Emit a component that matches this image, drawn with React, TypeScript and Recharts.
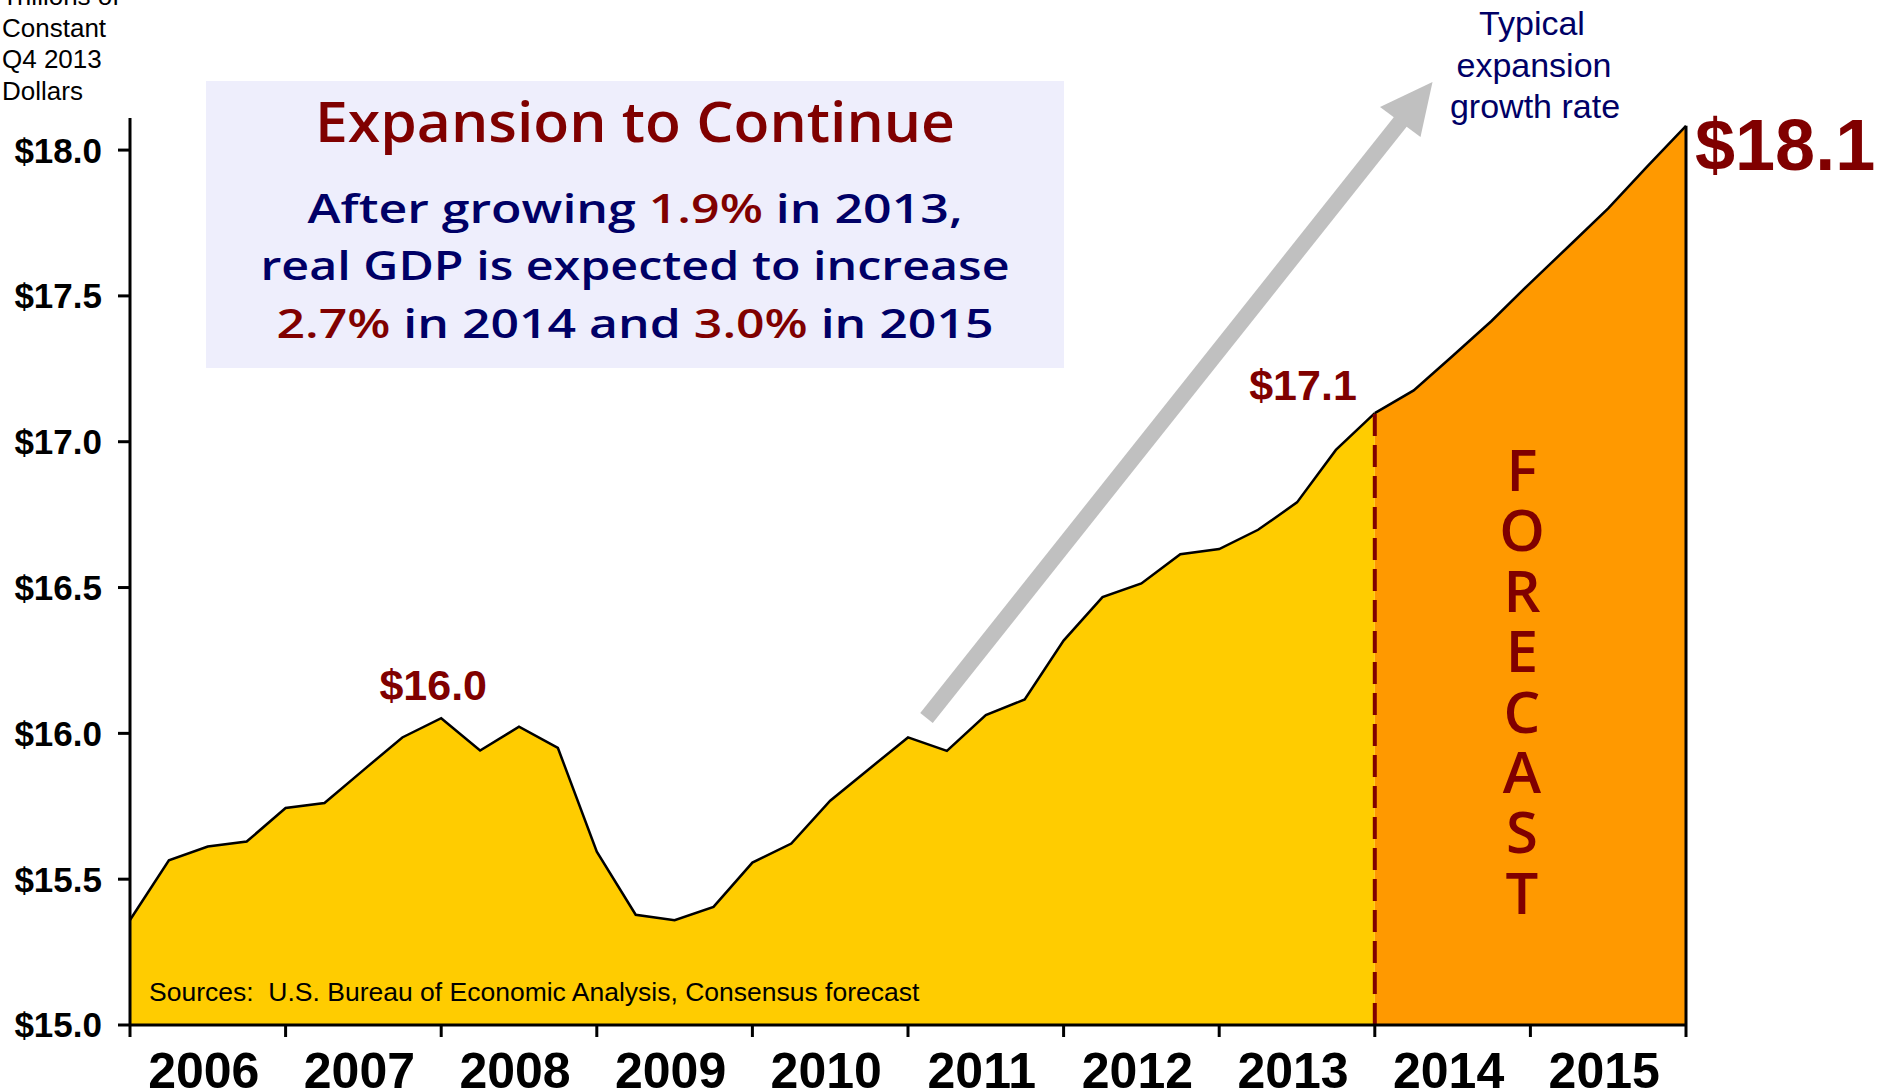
import React from "react";
import { ComposedChart, Area, XAxis, YAxis, ReferenceLine } from "recharts";

// quarterly real GDP, trillions of constant Q4 2013 dollars (2005Q4 .. 2015Q4)
const quarters = [
  "2005Q4",
  "2006Q1", "2006Q2", "2006Q3", "2006Q4",
  "2007Q1", "2007Q2", "2007Q3", "2007Q4",
  "2008Q1", "2008Q2", "2008Q3", "2008Q4",
  "2009Q1", "2009Q2", "2009Q3", "2009Q4",
  "2010Q1", "2010Q2", "2010Q3", "2010Q4",
  "2011Q1", "2011Q2", "2011Q3", "2011Q4",
  "2012Q1", "2012Q2", "2012Q3", "2012Q4",
  "2013Q1", "2013Q2", "2013Q3", "2013Q4",
  "2014Q1", "2014Q2", "2014Q3", "2014Q4",
  "2015Q1", "2015Q2", "2015Q3", "2015Q4",
];

const gdp = [
  15.36,
  15.565, 15.612, 15.629, 15.744,
  15.761, 15.874, 15.986, 16.052,
  15.941, 16.023, 15.95, 15.594,
  15.378, 15.359, 15.405, 15.557,
  15.622, 15.769, 15.878, 15.986,
  15.94, 16.063, 16.116, 16.318,
  16.467, 16.514, 16.614, 16.632,
  16.698, 16.792, 16.972, 17.098,
  17.176, 17.294, 17.414, 17.545,
  17.672, 17.8, 17.943, 18.083,
];

const forecastFrom = 32; // 2013Q4, last actual
const yearLabels = ["2006", "2007", "2008", "2009", "2010", "2011", "2012", "2013", "2014", "2015"];
const yTicks = [15, 15.5, 16, 16.5, 17, 17.5, 18];
const unitLines = ["Trillions of", "Constant", "Q4 2013", "Dollars"];
const forecastWord = "FORECAST";

const DARK_RED = "#800000";
const NAVY = "#000066";
const ARIAL = "'Liberation Sans', Arial, sans-serif";
const HUMANIST = "'Open Sans', 'DejaVu Sans', sans-serif";

const rows = gdp.map((v, i) => ({
  i,
  q: quarters[i],
  hist: i <= forecastFrom ? v : null,
  fcst: i >= forecastFrom ? v : null,
}));

// ticks every half year: multiples of 4 are year boundaries, the rest carry the label
const xTicks = Array.from({ length: yearLabels.length * 2 + 1 }, (_, k) => k * 2);

const YearTick = (props: any) => {
  const { x, y, payload } = props;
  const v = payload.value as number;
  if (v % 4 === 0) {
    return <line x1={x} x2={x} y1={y - 12} y2={y} stroke="#000" strokeWidth={3} />;
  }
  return (
    <text
      x={x - 4}
      y={y + 51}
      textAnchor="middle"
      fontFamily={ARIAL}
      fontWeight={700}
      fontSize={50}
      fill="#000"
    >
      {yearLabels[(v - 2) / 4]}
    </text>
  );
};

const callouts: Record<string, Record<number, string>> = {
  hist: { 8: "$16.0", 32: "$17.1" },
  fcst: { 40: "$18.1" },
};

const makeDot = (series: string) => (props: any) => {
  const { cx, cy, index } = props;
  const txt = callouts[series][index];
  if (!txt || cx == null || cy == null) return <g key={`${series}-${index}`} />;
  let attrs: any = { x: cx - 8, y: cy - 18, textAnchor: "middle", fontSize: 43 };
  if (index === forecastFrom) attrs = { x: cx - 18, y: cy - 13, textAnchor: "end", fontSize: 43 };
  if (index === gdp.length - 1) attrs = { x: cx + 9, y: cy + 44, textAnchor: "start", fontSize: 72 };
  return (
    <text key={`${series}-${index}`} {...attrs} fontFamily={ARIAL} fontWeight={700} fill={DARK_RED}>
      {txt}
    </text>
  );
};

export default function App() {
  return (
    <div style={{ position: "absolute", left: 0, top: 0, width: 1885, height: 1090, background: "#fff" }}>
      <ComposedChart
        width={1885}
        height={1090}
        data={rows}
        margin={{ top: 118, right: 199, bottom: 0, left: 0 }}
      >
        <XAxis
          dataKey="i"
          type="number"
          domain={[0, gdp.length - 1]}
          ticks={xTicks}
          interval={0}
          tickLine={false}
          tickSize={12}
          tickMargin={0}
          height={65}
          axisLine={{ stroke: "#000", strokeWidth: 3 }}
          tick={<YearTick />}
        />
        <YAxis
          type="number"
          domain={[15, 18.11]}
          ticks={yTicks}
          interval={0}
          width={130}
          tickSize={12}
          tickMargin={16}
          tickFormatter={(v: number) => `$${v.toFixed(1)}`}
          axisLine={{ stroke: "#000", strokeWidth: 3 }}
          tickLine={{ stroke: "#000", strokeWidth: 3 }}
          tick={{ fontSize: 35, fontWeight: 700, fill: "#000", fontFamily: ARIAL }}
        />
        <Area
          type="linear"
          dataKey="hist"
          fill="#FFCC00"
          fillOpacity={1}
          stroke="#000"
          strokeWidth={2.5}
          dot={makeDot("hist")}
          activeDot={false}
          isAnimationActive={false}
        />
        <Area
          type="linear"
          dataKey="fcst"
          fill="#FF9900"
          fillOpacity={1}
          stroke="#000"
          strokeWidth={2.5}
          dot={makeDot("fcst")}
          activeDot={false}
          isAnimationActive={false}
        />
        <ReferenceLine
          segment={[
            { x: forecastFrom, y: 15 },
            { x: forecastFrom, y: gdp[forecastFrom] },
          ]}
          stroke={DARK_RED}
          strokeWidth={4}
          strokeDasharray="22 9"
        />
        <ReferenceLine
          segment={[
            { x: gdp.length - 1, y: 15 },
            { x: gdp.length - 1, y: gdp[gdp.length - 1] },
          ]}
          stroke="#000"
          strokeWidth={3}
        />
      </ComposedChart>

      <svg
        width={1885}
        height={1090}
        style={{ position: "absolute", left: 0, top: 0, pointerEvents: "none" }}
      >
        {unitLines.map((t, k) => (
          <text key={t} x={2} y={5 + k * 31.5} fontFamily={ARIAL} fontSize={26} fill="#000">
            {t}
          </text>
        ))}

        <rect x={206} y={81} width={858} height={287} fill="#EEEEFC" />
        <text
          x={635}
          y={142}
          textAnchor="middle"
          fontFamily={HUMANIST}
          fontWeight={600}
          fontSize={56}
          fill={DARK_RED}
          textLength={640}
          lengthAdjust="spacingAndGlyphs"
        >
          Expansion to Continue
        </text>
        <g fontFamily={HUMANIST} fontWeight={600} fontSize={40} fill={NAVY} textAnchor="middle">
          <text x={635} y={223} textLength={655} lengthAdjust="spacingAndGlyphs">
            After growing <tspan fill={DARK_RED}>1.9%</tspan> in 2013,
          </text>
          <text x={635} y={280} textLength={749} lengthAdjust="spacingAndGlyphs">
            real GDP is expected to increase
          </text>
          <text x={635} y={338} textLength={717} lengthAdjust="spacingAndGlyphs">
            <tspan fill={DARK_RED}>2.7%</tspan> in 2014 and <tspan fill={DARK_RED}>3.0%</tspan> in 2015
          </text>
        </g>

        {/* typical expansion arrow */}
        <line x1={926.5} y1={718} x2={1401} y2={121} stroke="#C0C0C0" strokeWidth={16} />
        <polygon points="1380,107 1432.5,82 1420.5,137" fill="#C0C0C0" />
        <g fontFamily={ARIAL} fontSize={34} fill={NAVY} textAnchor="middle">
          <text x={1532} y={35}>Typical</text>
          <text x={1534} y={77}>expansion</text>
          <text x={1535} y={118}>growth rate</text>
        </g>

        {forecastWord.split("").map((ch, k) => (
          <text
            key={k}
            x={1522}
            y={491 + k * 60.4}
            textAnchor="middle"
            fontFamily={HUMANIST}
            fontWeight={600}
            fontSize={58}
            fill={DARK_RED}
          >
            {ch}
          </text>
        ))}

        <text x={149} y={1001} fontFamily={ARIAL} fontSize={26.5} fill="#000">
          Sources:{"\u00a0\u00a0"}U.S. Bureau of Economic Analysis, Consensus forecast
        </text>
      </svg>
    </div>
  );
}
